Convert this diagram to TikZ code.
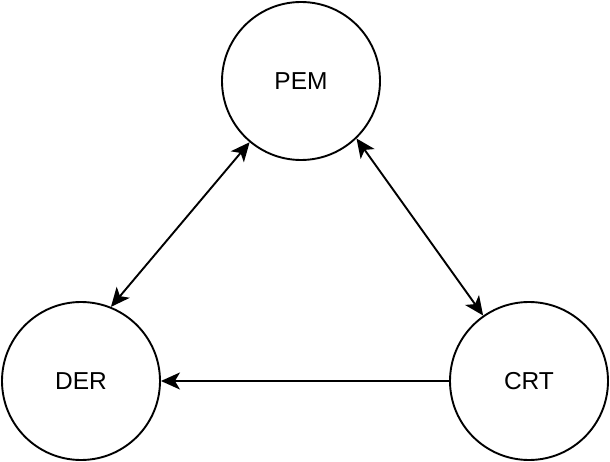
\documentclass[tikz,border=0pt]{standalone}
\usepackage{fontspec}
\setmainfont{Liberation Sans}
\usepackage{tikz}
\usetikzlibrary{arrows.meta}

\begin{document}
\begin{tikzpicture}[x=1pt, y=-1pt, line width=1.9pt,
    arrowtip/.tip = {Stealth[length=19pt, width=17pt, inset=5pt]},
    main/.style = {draw, circle, minimum size=158pt, inner sep=0pt, font=\fontsize{24.5}{28}\selectfont}] 
    \useasboundingbox (0,0) rectangle (610,462);
    \node[main] (PEM) at (301,81) {PEM}; 
    \node[main] (DER) at (81,381) {DER}; 
    \node[main] (CRT) at (529,381) {CRT}; 
    \draw[arrowtip-arrowtip] (PEM.230) -- (DER.68); 
    \draw[arrowtip-arrowtip] (PEM.314) -- (CRT.125); 
    \draw[-arrowtip] (CRT) -- (DER); 
\end{tikzpicture}
\end{document}
